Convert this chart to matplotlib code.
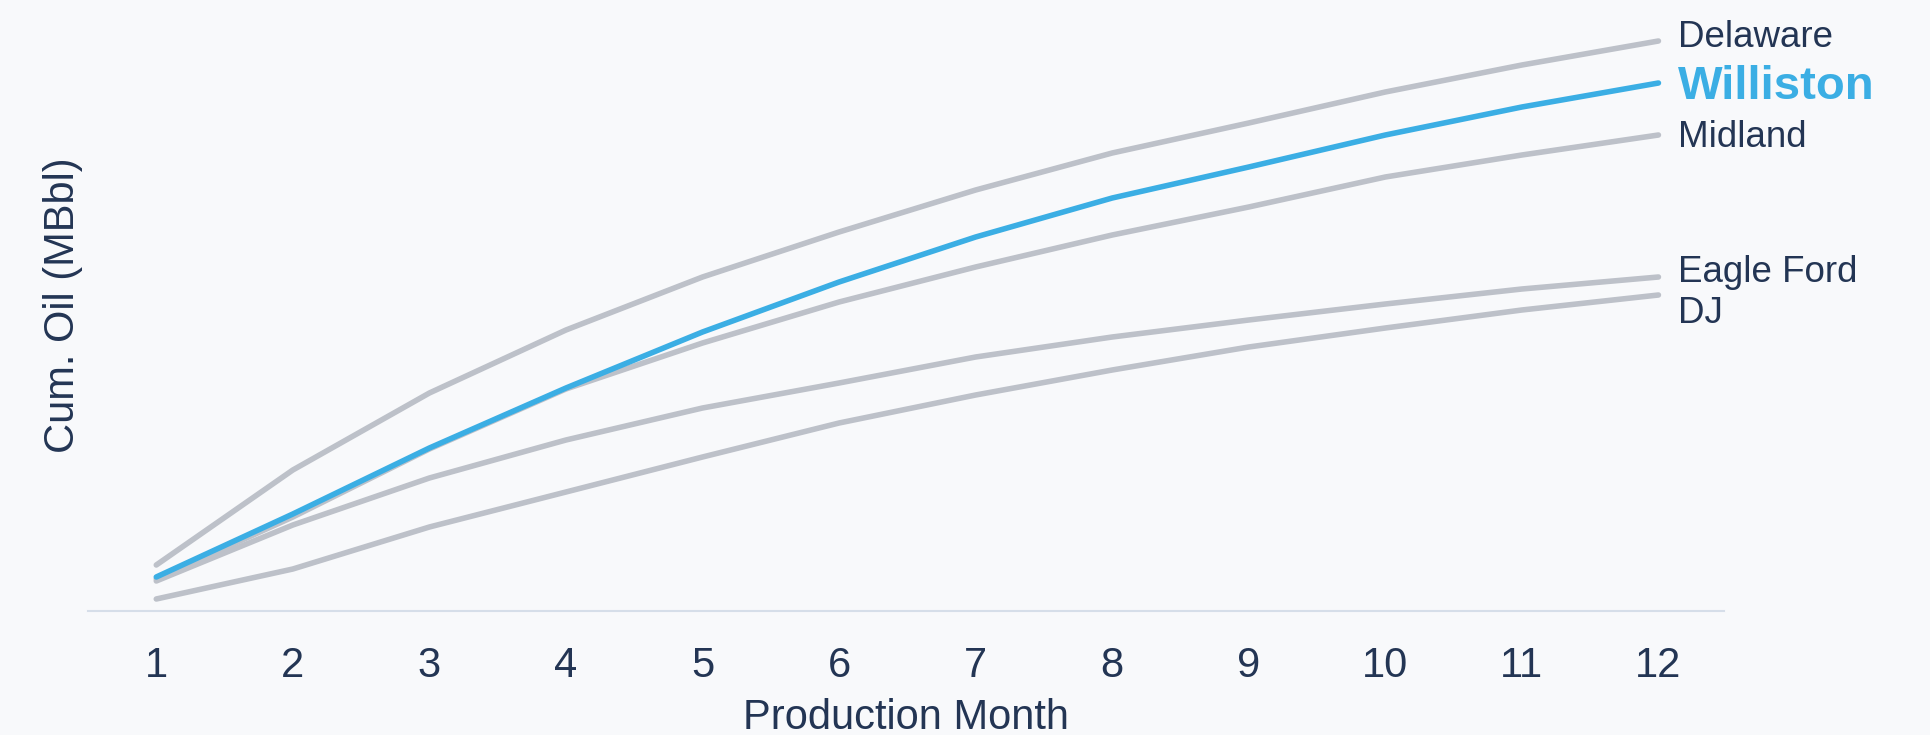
import matplotlib
matplotlib.use("Agg")
import matplotlib.pyplot as plt

# cumulative oil by production month for each basin
months = [1, 2, 3, 4, 5, 6, 7, 8, 9, 10, 11, 12]
delaware = [46, 141, 218, 281, 334, 379, 421, 458, 488, 519, 546, 570]
williston = [34, 97, 163, 223, 279, 329, 374, 413, 444, 476, 504, 528]
midland = [32, 94, 162, 222, 268, 309, 344, 376, 404, 434, 456, 476]
eagle_ford = [30, 86, 133, 171, 203, 228, 254, 274, 291, 307, 322, 334]
dj = [12, 42, 84, 119, 154, 188, 216, 241, 264, 283, 301, 316]

basins = ["Delaware", "Williston", "Midland", "Eagle Ford", "DJ"]
series = [delaware, williston, midland, eagle_ford, dj]
highlight = "Williston"

bg = "#f8f9fb"
grey = "#bdc1c9"
blue = "#3baee4"
navy = "#233554"

plt.rcParams["font.family"] = ["Liberation Sans", "DejaVu Sans"]

fig = plt.figure(figsize=(19.31, 7.35), dpi=100, facecolor=bg)
W, H = 1931, 735
ax = fig.add_axes([88 / W, (H - 611) / H, (1724 - 88) / W, 611 / H])
ax.set_facecolor(bg)

# label baseline nudges (points) so the end labels don't collide
nudge = {"Delaware": -4, "Williston": -11.5, "Midland": -8.5,
         "Eagle Ford": -3.5, "DJ": -20.5}

# grey lines first, highlighted basin on top
order = [b for b in basins if b != highlight] + [highlight]
for name in order:
    vals = series[basins.index(name)]
    is_hl = name == highlight
    ax.plot(months, vals, color=blue if is_hl else grey, lw=4.0,
            solid_capstyle="round", solid_joinstyle="round",
            zorder=3 if is_hl else 2)
    ax.annotate(name, (months[-1], vals[-1]), xytext=(14, nudge[name]),
                textcoords="offset points", va="baseline", ha="left",
                fontsize=34 if is_hl else 26.5,
                fontweight="bold" if is_hl else "normal",
                color=blue if is_hl else navy, annotation_clip=False)

ax.set_xlim(0.5, 12.48)
ax.set_ylim(0, 611)
ax.set_xticks(months)
ax.set_yticks([])
ax.tick_params(axis="x", length=0, pad=25, labelsize=30, labelcolor=navy)

for side in ["top", "right", "left"]:
    ax.spines[side].set_visible(False)
ax.spines["bottom"].set_color("#d6dee9")
ax.spines["bottom"].set_linewidth(1.5)

ax.set_xlabel("Production Month", fontsize=30, color=navy, labelpad=9)
ax.set_ylabel("Cum. Oil (MBbl)", fontsize=30, color=navy, va="center")
ax.yaxis.set_label_coords(-0.015, 0.5)

fig.savefig("out.png", dpi=100, facecolor=bg)
